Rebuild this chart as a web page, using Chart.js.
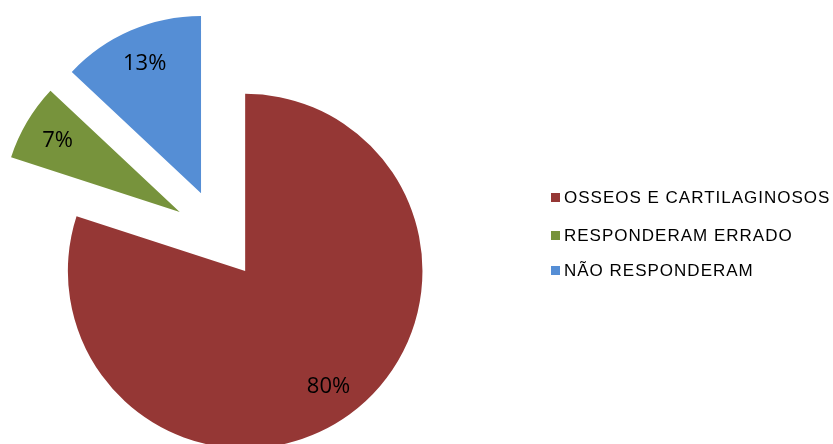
<!DOCTYPE html>
<html>
<head>
<meta charset="utf-8">
<script src="https://cdn.jsdelivr.net/npm/chart.js@4"></script>
<style>
  html, body { margin: 0; padding: 0; background: #fff; }
  #wrap { position: relative; width: 833px; height: 444px; overflow: hidden; }
  #chart { position: absolute; left: 0; top: 0; }
  .item { position: absolute; left: 551px; height: 17px; white-space: nowrap; }
  .item .box { position: absolute; left: 0; width: 9px; height: 9px; }
  .item .txt { position: absolute; left: 13px; top: 0; font-family: "Liberation Sans", Arial, sans-serif;
               font-size: 17px; line-height: 17px; letter-spacing: 1px; color: #000; }
</style>
</head>
<body>
<div id="wrap">
  <canvas id="chart" width="833" height="444"></canvas>
</div>
<script>
const categories = ["OSSEOS E CARTILAGINOSOS", "RESPONDERAM ERRADO", "NÃO RESPONDERAM"];
const percentages = [80, 7, 13];
const sliceColors = ["#953735", "#77933C", "#558ED5"];
const explodeOffsets = [44, 46, 46];

// Legend rows on the right (vertical centre of each row)
const legendRowY = [197.5, 235.5, 270.5];
const wrap = document.getElementById('wrap');
categories.forEach((name, i) => {
  const row = document.createElement('div');
  row.className = 'item';
  row.style.top = (legendRowY[i] - 8.3) + 'px';
  const box = document.createElement('span');
  box.className = 'box';
  box.style.background = sliceColors[i];
  box.style.top = (8.3 - 4.5) + 'px';
  const txt = document.createElement('span');
  txt.className = 'txt';
  txt.textContent = name;
  row.appendChild(box);
  row.appendChild(txt);
  wrap.appendChild(row);
});

// Pull every slice straight out along its bisector, keeping radius and angles intact
const explodeSlices = {
  id: 'explodeSlices',
  afterDatasetUpdate(chart, args) {
    args.meta.data.forEach((arc, i) => {
      if (arc._exploded) return;
      arc._exploded = true;
      const baseDraw = arc.constructor.prototype.draw;
      arc.draw = function (ctx) {
        const mid = (this.startAngle + this.endAngle) / 2;
        const d = explodeOffsets[i] || 0;
        ctx.save();
        ctx.translate(Math.cos(mid) * d, Math.sin(mid) * d);
        baseDraw.call(this, ctx);
        ctx.restore();
      };
    });
  }
};

// Percentage labels placed inside each exploded slice
const sliceLabels = {
  id: 'sliceLabels',
  afterDatasetsDraw(chart) {
    const ctx = chart.ctx;
    const meta = chart.getDatasetMeta(0);
    ctx.save();
    ctx.font = '22px "Open Sans", sans-serif';
    ctx.fillStyle = '#000';
    ctx.textAlign = 'center';
    ctx.textBaseline = 'middle';
    meta.data.forEach((arc, i) => {
      const p = arc.getProps(['x', 'y', 'startAngle', 'endAngle', 'outerRadius'], true);
      const mid = (p.startAngle + p.endAngle) / 2;
      const d = explodeOffsets[i] + 0.8 * p.outerRadius;
      const x = p.x + Math.cos(mid) * d;
      const y = p.y + Math.sin(mid) * d;
      ctx.fillText(percentages[i] + '%', x, y + 1);
    });
    ctx.restore();
  }
};

new Chart(document.getElementById('chart'), {
  type: 'pie',
  data: {
    labels: categories,
    datasets: [{
      data: percentages,
      backgroundColor: sliceColors,
      borderWidth: 0,
      offset: 0,
      hoverOffset: 0,
      clip: false
    }]
  },
  options: {
    responsive: false,
    animation: false,
    radius: 177.3,
    rotation: 0,
    layout: { padding: { left: 0, right: 394.4, top: 27, bottom: 0 } },
    plugins: {
      legend: { display: false },
      tooltip: { enabled: false }
    }
  },
  plugins: [explodeSlices, sliceLabels]
});
</script>
</body>
</html>
